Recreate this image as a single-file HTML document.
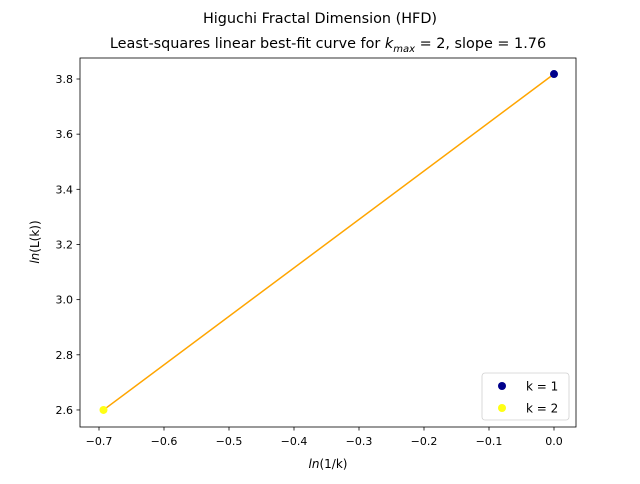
<!DOCTYPE html>
<html><head><meta charset="utf-8"><style>
body{margin:0;background:#fff;font-family:"DejaVu Sans","Liberation Sans",sans-serif}
svg text{font-family:"DejaVu Sans","Liberation Sans",sans-serif}
</style></head><body>
<svg id="chart" width="640" height="480" xmlns="http://www.w3.org/2000/svg">
<rect width="640" height="480" fill="#fff"/>
<text x="320" y="23" text-anchor="middle" font-size="14.4">Higuchi Fractal Dimension (HFD)</text>
<text x="328" y="48" text-anchor="middle" font-size="14.4">Least-squares linear best-fit curve for <tspan font-style="italic">k</tspan><tspan font-size="10" dy="4" font-style="italic">max</tspan><tspan dy="-4"> = 2, slope = 1.76</tspan></text>
<g id="plot"></g>
<rect x="80" y="58" width="496" height="369" fill="none" stroke="#000" stroke-width="0.8"/>
<text x="328" y="468" text-anchor="middle" font-size="12"><tspan font-style="italic">ln</tspan>(1/k)</text>
<text transform="translate(39,242) rotate(-90)" text-anchor="middle" font-size="12"><tspan font-style="italic">ln</tspan>(L(k))</text>
<g>
<rect x="482" y="373" width="87" height="47" rx="3" fill="#fff" stroke="#ccc" stroke-width="0.8" opacity="0.9"/>
<circle cx="502" cy="386" r="4" fill="#00008b"/>
<text x="526" y="390.5" font-size="12">k = 1</text>
<circle cx="502" cy="408" r="4" fill="#ffff14"/>
<text x="526" y="412.5" font-size="12">k = 2</text>
</g>
</svg>
<script>
const xs = [0.0, -0.6931];
const ys = [3.818, 2.600];
const labels = ['k = 1','k = 2'];
const colors = ['#00008b','#ffff14'];
const xTicks = [-0.7,-0.6,-0.5,-0.4,-0.3,-0.2,-0.1,0.0];
const yTicks = [2.6,2.8,3.0,3.2,3.4,3.6,3.8];
const slope = 1.76;
const X = v => 554 + v*650;
const Y = v => 79 - (v-3.8)*275.8;
const g = document.getElementById('plot');
const NS='http://www.w3.org/2000/svg';
function mk(t,a){const e=document.createElementNS(NS,t);for(const k in a)e.setAttribute(k,a[k]);g.appendChild(e);return e;}
xTicks.forEach(t=>{
 const l=mk('line',{x1:X(t),x2:X(t),y1:427,y2:430.5,stroke:'#000','stroke-width':0.8});
 
 
 const tx=mk('text',{x:X(t),y:445,'text-anchor':'middle','font-size':11});
 tx.textContent=(t<0?'\u2212':'')+Math.abs(t).toFixed(1);
 
 
});
yTicks.forEach(t=>{
 const l=mk('line',{x1:76.5,x2:80,y1:Y(t),y2:Y(t),stroke:'#000','stroke-width':0.8});
 
 
 const tx=mk('text',{x:73,y:Y(t)+4,'text-anchor':'end','font-size':11});
 tx.textContent=t.toFixed(1);
 
 
});
const ln=mk('line',{x1:X(xs[1]),y1:Y(ys[1]),x2:X(xs[0]),y2:Y(ys[0]),stroke:'orange','stroke-width':1.5});


xs.forEach((x,i)=>{
 const c=mk('circle',{cx:X(x),cy:Y(ys[i]),r:4,fill:colors[i]});
 
 
});
</script>
</body></html>
